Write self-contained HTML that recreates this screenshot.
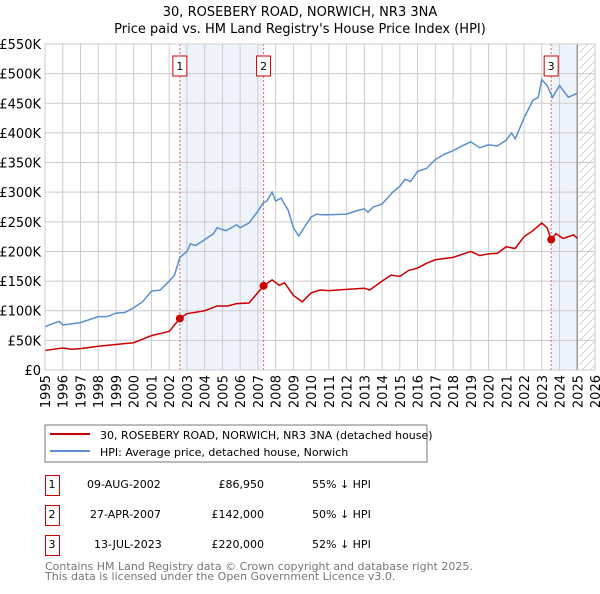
<!DOCTYPE html>
<html><head><meta charset="utf-8"><style>
body{margin:0;background:#fff;font-family:"DejaVu Sans","Liberation Sans",sans-serif;}
svg text{font-family:"DejaVu Sans","Liberation Sans",sans-serif;}
</style></head><body>
<svg id="c" width="600" height="590" viewBox="0 0 600 590">
<defs><pattern id="h" width="8" height="8" patternUnits="userSpaceOnUse"><path d="M0,8 L8,0" stroke="#ccc" stroke-width="0.8"/></pattern></defs>
<text x="300" y="16" text-anchor="middle" font-size="13">30, ROSEBERY ROAD, NORWICH, NR3 3NA</text>
<text x="300" y="33" text-anchor="middle" font-size="13">Price paid vs. HM Land Registry's House Price Index (HPI)</text>
<g id="plot"></g>
<rect x="45" y="425" width="382" height="37" fill="#fff" stroke="#777"/>
<line x1="50" y1="434" x2="90" y2="434" stroke="#cc0000" stroke-width="2"/>
<text x="100" y="439" font-size="11">30, ROSEBERY ROAD, NORWICH, NR3 3NA (detached house)</text>
<line x1="50" y1="451" x2="90" y2="451" stroke="#5b8fd0" stroke-width="2"/>
<text x="100" y="456" font-size="11">HPI: Average price, detached house, Norwich</text>
<g font-size="11">
<rect x="45.5" y="475.5" width="14" height="20" fill="none" stroke="#cc0000"/><text x="52" y="488" text-anchor="middle">1</text>
<text x="87" y="488">09-AUG-2002</text><text x="264" y="488" text-anchor="end">£86,950</text><text x="312" y="488">55% ↓ HPI</text>
<rect x="45.5" y="505.5" width="14" height="20" fill="none" stroke="#cc0000"/><text x="52" y="518" text-anchor="middle">2</text>
<text x="90" y="518">27-APR-2007</text><text x="264" y="518" text-anchor="end">£142,000</text><text x="312" y="518">50% ↓ HPI</text>
<rect x="45.5" y="535.5" width="14" height="20" fill="none" stroke="#cc0000"/><text x="52" y="548" text-anchor="middle">3</text>
<text x="94" y="548">13-JUL-2023</text><text x="264" y="548" text-anchor="end">£220,000</text><text x="312" y="548">52% ↓ HPI</text>
</g>
<text x="45" y="570" font-size="11" fill="#777">Contains HM Land Registry data © Crown copyright and database right 2025.</text>
<text x="45" y="580" font-size="11" fill="#777">This data is licensed under the Open Government Licence v3.0.</text>
</svg>
<script>
const yTicks=[0,50,100,150,200,250,300,350,400,450,500,550];
const yTickLabels=["£0","£50K","£100K","£150K","£200K","£250K","£300K","£350K","£400K","£450K","£500K","£550K"];
const xYears=[1995,1996,1997,1998,1999,2000,2001,2002,2003,2004,2005,2006,2007,2008,2009,2010,2011,2012,2013,2014,2015,2016,2017,2018,2019,2020,2021,2022,2023,2024,2025,2026];
const hpiT=[1995,1995.5,1995.8,1996,1997,1998,1998.5,1999,1999.5,2000,2000.5,2001,2001.5,2002,2002.3,2002.6,2003,2003.2,2003.5,2004,2004.5,2004.7,2005.2,2005.8,2006,2006.5,2007,2007.3,2007.5,2007.8,2008,2008.3,2008.7,2009,2009.3,2009.6,2010,2010.3,2010.6,2011,2012,2012.5,2013,2013.2,2013.5,2014,2014.3,2014.6,2015,2015.3,2015.6,2016,2016.5,2017,2017.5,2018,2018.5,2019,2019.5,2020,2020.5,2021,2021.3,2021.5,2022,2022.5,2022.8,2023,2023.3,2023.6,2024,2024.5,2025];
const hpiV=[73,79,82,76,80,90,90,96,97,105,115,133,135,150,160,190,200,213,210,220,230,240,235,245,240,248,268,282,285,300,285,290,270,240,226,240,258,263,262,262,263,268,272,266,275,280,290,300,310,322,318,335,340,355,364,370,378,385,375,380,378,388,400,390,425,455,460,490,480,460,480,460,467];
const priceT=[1995,1996,1996.5,1997,1998,1999,2000,2000.5,2001,2002,2002.6,2003,2004,2004.7,2005.3,2005.8,2006.5,2007.32,2007.8,2008.2,2008.5,2009,2009.5,2010,2010.5,2011,2012,2013,2013.3,2014,2014.5,2015,2015.5,2016,2016.5,2017,2018,2019,2019.5,2020,2020.5,2021,2021.5,2022,2022.5,2023,2023.3,2023.53,2023.8,2024.2,2024.8,2025];
const priceV=[33,37,35,36,40,43,46,52,58,65,87,95,100,108,108,112,113,142,152,143,147,126,115,130,135,134,136,138,135,150,160,158,168,172,180,186,190,200,193,196,197,208,205,225,235,248,240,220,230,222,228,222];
const saleT=[2002.6,2007.32,2023.53];
const saleV=[86.95,142,220];
const saleLabels=["1","2","3"];
const NS="http://www.w3.org/2000/svg";
const L=45,R=595,T=44,B=370;
const x=t=>L+(t-1995)/(2026-1995)*(R-L);
const y=v=>B-v/550*(B-T);
const g=document.getElementById('plot');
function mk(tag,a){const e=document.createElementNS(NS,tag);for(const k in a)e.setAttribute(k,a[k]);g.appendChild(e);return e;}
let e;
e=mk('rect',{x:x(saleT[0]),y:T,width:x(saleT[1])-x(saleT[0]),height:B-T,fill:'#eef3fc'});


e=mk('rect',{x:x(saleT[2]),y:T,width:x(2025)-x(saleT[2]),height:B-T,fill:'#eef3fc'});


e=mk('rect',{x:x(2025.1),y:T,width:R-x(2025.1),height:B-T,fill:'url(#h)'});


yTicks.forEach((v,i)=>{
 e=mk('line',{x1:L,x2:R,y1:y(v),y2:y(v),stroke:'#ccc','stroke-width':1});
 
 
 e=mk('text',{x:L-4,y:y(v)+5,'text-anchor':'end','font-size':13});
 e.textContent=yTickLabels[i];
 
 
});
xYears.forEach(yr=>{
 e=mk('line',{x1:x(yr),x2:x(yr),y1:T,y2:B,stroke:'#ccc','stroke-width':1});
 
 
 e=mk('text',{x:0,y:0,'text-anchor':'end','font-size':13,transform:`translate(${x(yr)+5},${B+5}) rotate(-90)`});
 e.textContent=yr;
 
 
});
e=mk('line',{x1:x(2025),x2:x(2025),y1:T,y2:B,stroke:'#999','stroke-width':1.5});


saleT.forEach((t,i)=>{
 e=mk('line',{x1:x(t),x2:x(t),y1:T,y2:B,stroke:'#f06060','stroke-width':1,'stroke-dasharray':'2,2'});
 
 
 e=mk('rect',{x:x(t)-7,y:56,width:14,height:20,fill:'#fff',stroke:'#cc0000'});
 
 
 e=mk('text',{x:x(t),y:70,'text-anchor':'middle','font-size':11});
 e.textContent=saleLabels[i];
 
 
});
e=mk('polyline',{points:hpiT.map((t,i)=>x(t)+','+y(hpiV[i])).join(' '),fill:'none',stroke:'#5b8fd0','stroke-width':1.5});


e=mk('polyline',{points:priceT.map((t,i)=>x(t)+','+y(priceV[i])).join(' '),fill:'none',stroke:'#cc0000','stroke-width':1.5});


saleT.forEach((t,i)=>{
 e=mk('circle',{cx:x(t),cy:y(saleV[i]),r:4,fill:'#cc0000'});
 
 
});
e=mk('rect',{x:L,y:T,width:R-L,height:B-T,fill:'none',stroke:'#ccc'});


</script>
</body></html>
